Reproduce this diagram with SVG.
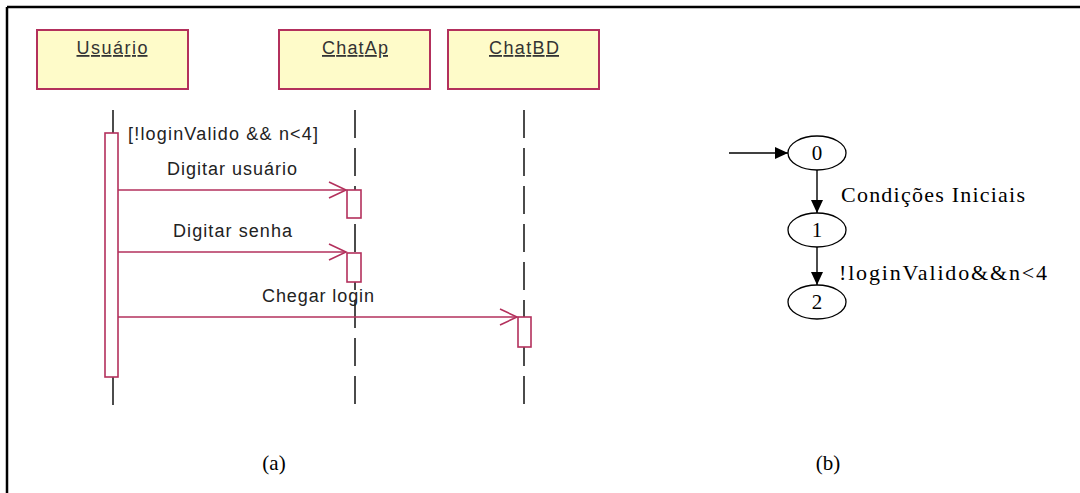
<svg xmlns="http://www.w3.org/2000/svg" width="1080" height="493" viewBox="0 0 1080 493">
<style>
.obj{fill:#fefbc9;stroke:#b3305c;stroke-width:2}
.act{fill:#ffffff;stroke:#b3305c;stroke-width:1.6}
.msg{stroke:#b3305c;stroke-width:1.6;fill:none}
.life{stroke:#111;stroke-width:1.5;stroke-dasharray:28 10}
.lbl{font-family:"Liberation Sans",Arial,sans-serif;font-size:18px;fill:#222}
.hdr{font-family:"Liberation Sans",Arial,sans-serif;font-size:18px;fill:#333}
.st{fill:#fff;stroke:#000;stroke-width:1.3}
.edge{stroke:#000;stroke-width:1.4;fill:none}
.ser{font-family:"Liberation Serif","Times New Roman",serif;fill:#000}
</style>
<defs>
<marker id="open" markerWidth="20" markerHeight="20" refX="18" refY="10" orient="auto" markerUnits="userSpaceOnUse">
<path d="M1,2 L18,10 L1,18" fill="none" stroke="#b3305c" stroke-width="1.6"/>
</marker>
<marker id="tri" markerWidth="14" markerHeight="12" refX="13" refY="6" orient="auto" markerUnits="userSpaceOnUse">
<path d="M0,0 L13,6 L0,12 Z" fill="#000"/>
</marker>
</defs>
<rect width="1080" height="493" fill="#fff"/>
<g id="frame">
<line x1="7" y1="7" x2="1080" y2="7" stroke="#000" stroke-width="2.5"/>
<line x1="7" y1="7" x2="7" y2="493" stroke="#000" stroke-width="2.5"/>
</g>
<g id="usuario">
<rect class="obj" x="37" y="30" width="151" height="59"/>
<text class="hdr" x="112" y="54" text-anchor="middle" text-decoration="underline" textLength="71">Usuário</text>
<line x1="113" y1="110" x2="113" y2="133" stroke="#111" stroke-width="1.5"/>
<line x1="113" y1="377" x2="113" y2="405" stroke="#111" stroke-width="1.5"/>
<rect class="act" x="105" y="133" width="13" height="244"/>
</g>
<g id="chatap">
<rect class="obj" x="279" y="30" width="151" height="59"/>
<text class="hdr" x="355" y="54" text-anchor="middle" text-decoration="underline" textLength="66">ChatAp</text>
<line class="life" x1="355" y1="110" x2="355" y2="405"/>
<rect class="act" x="347" y="190" width="14" height="28"/>
<rect class="act" x="347" y="253" width="14" height="29"/>
</g>
<g id="chatbd">
<rect class="obj" x="448" y="30" width="151" height="59"/>
<text class="hdr" x="524" y="54" text-anchor="middle" text-decoration="underline" textLength="70">ChatBD</text>
<line class="life" x1="524" y1="110" x2="524" y2="405"/>
<rect class="act" x="518" y="317" width="13" height="30"/>
</g>
<g id="messages">
<text class="lbl" x="128" y="140" textLength="190">[!loginValido &amp;&amp; n&lt;4]</text>
<line class="msg" x1="118" y1="190" x2="346" y2="190" marker-end="url(#open)"/>
<text class="lbl" x="167" y="175" textLength="130">Digitar usuário</text>
<line class="msg" x1="118" y1="252" x2="346" y2="252" marker-end="url(#open)"/>
<text class="lbl" x="173" y="237" textLength="119">Digitar senha</text>
<line class="msg" x1="118" y1="317" x2="517" y2="317" marker-end="url(#open)"/>
<text class="lbl" x="262" y="302" textLength="112">Chegar login</text>
</g>
<g id="state0">
<ellipse class="st" cx="817" cy="153" rx="29" ry="17"/>
<text class="ser" x="817" y="160" font-size="21" text-anchor="middle">0</text>
</g>
<g id="state1">
<ellipse class="st" cx="817" cy="230" rx="29" ry="17"/>
<text class="ser" x="817" y="237" font-size="21" text-anchor="middle">1</text>
</g>
<g id="state2">
<ellipse class="st" cx="817" cy="302" rx="29" ry="17"/>
<text class="ser" x="817" y="309" font-size="21" text-anchor="middle">2</text>
</g>
<g id="transitions">
<line class="edge" x1="729" y1="153" x2="788" y2="153" marker-end="url(#tri)"/>
<line class="edge" x1="817" y1="170" x2="817" y2="213" marker-end="url(#tri)"/>
<line class="edge" x1="817" y1="247" x2="817" y2="285" marker-end="url(#tri)"/>
<text class="ser" x="841" y="202" font-size="22" textLength="184">Condições Iniciais</text>
<text class="ser" x="839" y="280" font-size="22" textLength="208">!loginValido&amp;&amp;n&lt;4</text>
</g>
<g id="captions">
<text class="ser" x="274" y="470" font-size="21" text-anchor="middle">(a)</text>
<text class="ser" x="828" y="470" font-size="21" text-anchor="middle">(b)</text>
</g>
</svg>
